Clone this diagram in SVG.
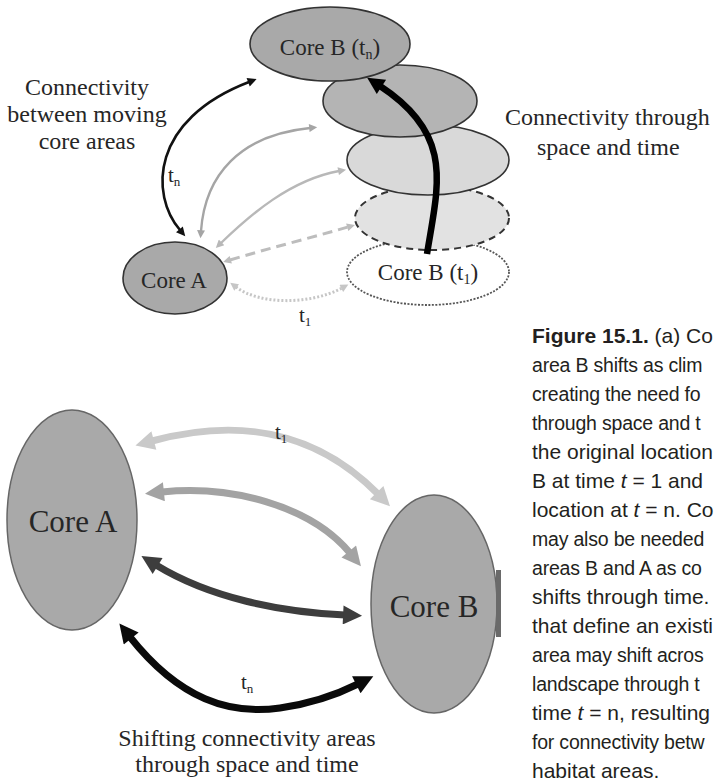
<svg xmlns="http://www.w3.org/2000/svg" width="714" height="783" viewBox="0 0 714 783">
<style>
.serif{font-family:"Liberation Serif","Times New Roman",serif;fill:#262626}
.lbl{font-size:24px;text-anchor:middle}
.node{font-size:23px;text-anchor:middle}
.big{font-size:31px;text-anchor:middle}
.tl{font-size:21px}
.cap{font-family:"Liberation Sans",Arial,sans-serif;font-size:21px;fill:#231f20}
.fit{font-size:19.5px;letter-spacing:-0.2px}
.e{stroke:#333;stroke-width:1.6}
.arr{fill:none}
</style>
<defs>
<marker id="mK" viewBox="0 0 10 10" refX="1" refY="5" markerUnits="userSpaceOnUse" markerWidth="11" markerHeight="9" orient="auto-start-reverse"><path d="M0,0 L10,5 L0,10 z" fill="#111"/></marker>
<marker id="mG1" viewBox="0 0 10 10" refX="1" refY="5" markerUnits="userSpaceOnUse" markerWidth="10" markerHeight="8" orient="auto-start-reverse"><path d="M0,0 L10,5 L0,10 z" fill="#a5a5a5"/></marker>
<marker id="mG2" viewBox="0 0 10 10" refX="1" refY="5" markerUnits="userSpaceOnUse" markerWidth="10" markerHeight="8" orient="auto-start-reverse"><path d="M0,0 L10,5 L0,10 z" fill="#b8b8b8"/></marker>
<marker id="mDa" viewBox="0 0 10 10" refX="1" refY="5" markerUnits="userSpaceOnUse" markerWidth="10" markerHeight="8" orient="auto-start-reverse"><path d="M0,0 L10,5 L0,10 z" fill="#bdbdbd"/></marker>
<marker id="mDo" viewBox="0 0 10 10" refX="1" refY="5" markerUnits="userSpaceOnUse" markerWidth="9" markerHeight="8" orient="auto-start-reverse"><path d="M0,0 L10,5 L0,10 z" fill="#c6c6c6"/></marker>
<marker id="mBig" viewBox="0 0 10 10" refX="1" refY="5" markerUnits="userSpaceOnUse" markerWidth="22" markerHeight="17" orient="auto"><path d="M0,0 L10,5 L0,10 z" fill="#000"/></marker>
<marker id="bL" viewBox="0 0 10 10" refX="1" refY="5" markerUnits="userSpaceOnUse" markerWidth="22" markerHeight="19" orient="auto-start-reverse"><path d="M0,0 L10,5 L0,10 z" fill="#c9c9c9"/></marker>
<marker id="bM" viewBox="0 0 10 10" refX="1" refY="5" markerUnits="userSpaceOnUse" markerWidth="22" markerHeight="19" orient="auto-start-reverse"><path d="M0,0 L10,5 L0,10 z" fill="#a3a3a3"/></marker>
<marker id="bD" viewBox="0 0 10 10" refX="1" refY="5" markerUnits="userSpaceOnUse" markerWidth="22" markerHeight="19" orient="auto-start-reverse"><path d="M0,0 L10,5 L0,10 z" fill="#3d3d3d"/></marker>
<marker id="bK" viewBox="0 0 10 10" refX="1" refY="5" markerUnits="userSpaceOnUse" markerWidth="22" markerHeight="19" orient="auto-start-reverse"><path d="M0,0 L10,5 L0,10 z" fill="#0a0a0a"/></marker>
</defs>
<rect width="714" height="783" fill="#fff"/>

<!-- Top panel nodes -->
<g id="coreB-t1">
<ellipse cx="428" cy="272" rx="81" ry="33" fill="#fff" stroke="#555" stroke-width="1.8" stroke-dasharray="2,1.5"/>
<text class="serif node" x="428" y="280">Core B (t<tspan font-size="14" dy="4">1</tspan><tspan dy="-4">)</tspan></text>
</g>
<g id="coreB-step2">
<ellipse cx="432" cy="218" rx="77" ry="32" fill="#e2e2e2" stroke="#333" stroke-width="2" stroke-dasharray="7,5"/>
</g>
<g id="coreB-step3">
<ellipse class="e" cx="428" cy="160" rx="81" ry="35" fill="#d9d9d9" stroke="#555"/>
</g>
<g id="coreB-step4">
<ellipse class="e" cx="400" cy="101" rx="77" ry="36" fill="#b4b4b4"/>
</g>
<g id="coreB-tn">
<ellipse class="e" cx="330" cy="44" rx="80" ry="37" fill="#a9a9a9"/>
<text class="serif node" x="330" y="55">Core B (t<tspan font-size="14" dy="4">n</tspan><tspan dy="-4">)</tspan></text>
</g>
<g id="coreA-top">
<ellipse class="e" cx="175" cy="278" rx="52" ry="36" fill="#a9a9a9"/>
<text class="serif node" x="174" y="288">Core A</text>
</g>

<!-- Top panel connectors -->
<g id="connectors-top">
<path class="arr" d="M427,254 C438,185 455,135 380,86" stroke="#000" stroke-width="6.5" marker-end="url(#mBig)"/>
<path class="arr" d="M180,230 C150,195 150,120 249,82" stroke="#111" stroke-width="2.6" marker-start="url(#mK)" marker-end="url(#mK)"/>
<path class="arr" d="M201,231 C205,175 240,135 310,128" stroke="#a5a5a5" stroke-width="2.4" marker-start="url(#mG1)" marker-end="url(#mG1)"/>
<path class="arr" d="M221,243 C250,215 290,180 339,171" stroke="#b8b8b8" stroke-width="2.4" marker-start="url(#mG2)" marker-end="url(#mG2)"/>
<path class="arr" d="M230,260 C270,248 310,238 348,227" stroke="#bdbdbd" stroke-width="3" stroke-dasharray="10,6" marker-start="url(#mDa)" marker-end="url(#mDa)"/>
<path class="arr" d="M236,287 C260,305 310,305 342,288" stroke="#c6c6c6" stroke-width="3" stroke-dasharray="2,2" marker-start="url(#mDo)" marker-end="url(#mDo)"/>
</g>

<!-- Top panel labels -->
<text class="serif tl" x="168" y="182">t<tspan font-size="13" dy="4">n</tspan></text>
<text class="serif tl" x="299" y="322">t<tspan font-size="13" dy="4">1</tspan></text>
<text class="serif lbl" x="87" y="95">Connectivity</text>
<text class="serif lbl" x="87" y="122">between moving</text>
<text class="serif lbl" x="87" y="149">core areas</text>
<text class="serif" font-size="24" x="505" y="125">Connectivity through</text>
<text class="serif" font-size="24" x="537" y="155">space and time</text>

<!-- Bottom panel nodes -->
<g id="coreA-bottom">
<ellipse cx="72" cy="520" rx="65" ry="110" fill="#a9a9a9" stroke="#666" stroke-width="1.5"/>
<text class="serif big" x="73" y="532">Core A</text>
</g>
<g id="coreB-bottom">
<ellipse cx="434" cy="604" rx="63" ry="109" fill="#a9a9a9" stroke="#666" stroke-width="1.5"/>
<text class="serif big" x="434" y="617">Core B</text>
</g>
<rect x="496" y="570" width="5" height="67" fill="#6a6a6a"/>

<!-- Bottom panel connectors -->
<g id="connectors-bottom">
<path class="arr" d="M152,441 C230,420 310,425 378,494" stroke="#c9c9c9" stroke-width="7" marker-start="url(#bL)" marker-end="url(#bL)"/>
<path class="arr" d="M162,492 C230,485 310,505 350,553" stroke="#a3a3a3" stroke-width="7" marker-start="url(#bM)" marker-end="url(#bM)"/>
<path class="arr" d="M156,565 C210,598 280,612 345,615" stroke="#3d3d3d" stroke-width="7" marker-start="url(#bD)" marker-end="url(#bD)"/>
<path class="arr" d="M130,637 C180,700 230,715 280,708 C315,703 340,693 358,684" stroke="#0a0a0a" stroke-width="7" marker-start="url(#bK)" marker-end="url(#bK)"/>
</g>
<text class="serif tl" x="275" y="439">t<tspan font-size="13" dy="4">1</tspan></text>
<text class="serif tl" x="241" y="689">t<tspan font-size="13" dy="4">n</tspan></text>
<text class="serif lbl" x="247" y="746">Shifting connectivity areas</text>
<text class="serif lbl" x="247" y="772">through space and time</text>

<!-- Caption -->
<g class="cap">
<text x="532" y="343"><tspan font-weight="bold">Figure 15.1.</tspan> (a) Co</text>
<text class="fit" x="532" y="372">area B shifts as clim</text>
<text class="fit" x="532" y="401">creating the need fo</text>
<text class="fit" x="532" y="430">through space and t</text>
<text x="532" y="459">the original location</text>
<text x="532" y="488">B at time <tspan font-style="italic">t</tspan> = 1 and</text>
<text x="532" y="517">location at <tspan font-style="italic">t</tspan> = n. Co</text>
<text class="fit" x="532" y="546">may also be needed</text>
<text class="fit" x="532" y="575">areas B and A as co</text>
<text x="532" y="604">shifts through time.</text>
<text x="532" y="633">that define an existi</text>
<text class="fit" x="532" y="662">area may shift acros</text>
<text class="fit" x="532" y="691" letter-spacing="-0.6">landscape through t</text>
<text x="532" y="720">time <tspan font-style="italic">t</tspan> = n, resulting</text>
<text class="fit" x="532" y="749">for connectivity betw</text>
<text x="532" y="778">habitat areas.</text>
</g>
</svg>
